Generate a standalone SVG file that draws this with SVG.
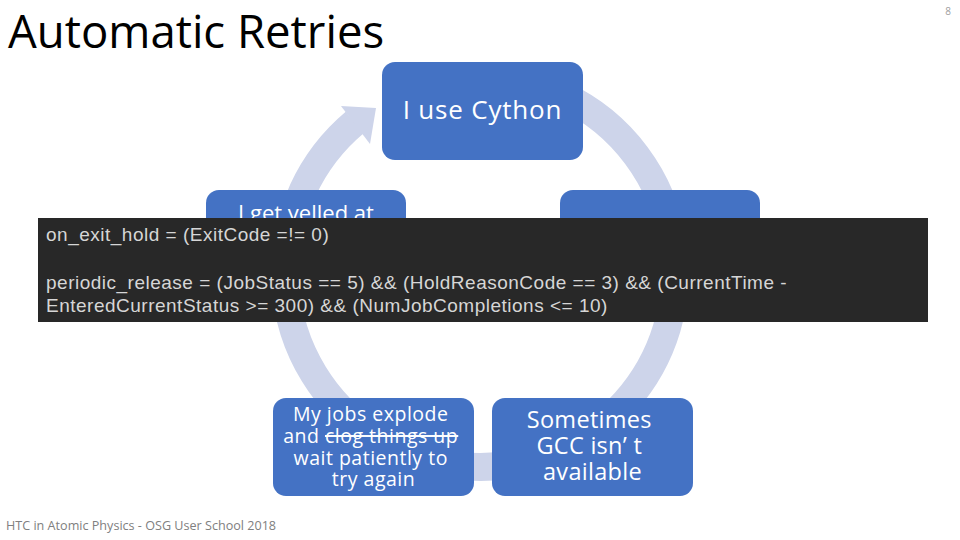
<svg xmlns="http://www.w3.org/2000/svg" width="960" height="540" viewBox="0 0 960 540">
<style>
.node{fill:#4472C4}
.nt{font-family:"Open Sans","Noto Sans","Noto Sans CJK SC",sans-serif;fill:#FFFFFF;text-anchor:middle}
.ring{fill:none;stroke:#CDD4EA;stroke-width:28}
.code{font-family:"Liberation Sans",Arial,sans-serif;font-size:19px;letter-spacing:0.5px;fill:#D6D6D6}
</style>
<rect width="960" height="540" fill="#FFFFFF"/>
<text x="8" y="48" font-family="Open Sans, sans-serif" font-size="45.5" fill="#000000">Automatic Retries</text>
<text x="951" y="15" font-family="Open Sans, sans-serif" font-size="10" fill="#A0A0A0" text-anchor="end">8</text>
<g id="connectors">
<path class="ring" d="M 480 77 A 195 195 0 1 1 354.7 122.6"/>
<polygon points="341,106 376,108 370,144" fill="#CDD4EA"/>
</g>
<g id="node-top">
<rect class="node" x="382" y="62" width="201" height="98" rx="13"/>
<text class="nt" x="482.5" y="119" font-size="26" letter-spacing="0.8">I use Cython</text>
</g>
<g id="node-left">
<rect class="node" x="206" y="190" width="200" height="98" rx="13"/>
<text class="nt" x="306" y="221" font-size="22">I get yelled at</text>
</g>
<g id="node-right">
<rect class="node" x="560" y="190" width="200" height="98" rx="13"/>
</g>
<g id="node-bottom-left">
<rect class="node" x="273" y="398" width="201" height="98" rx="13"/>
<text class="nt" font-size="19.5" letter-spacing="0.5">
<tspan x="373.5" y="421">My jobs explode</tspan>
<tspan x="373.5" y="443">and <tspan text-decoration="line-through">clog things up</tspan></tspan>
<tspan x="373.5" y="465">wait patiently to</tspan>
<tspan x="373.5" y="486">try again</tspan>
</text>
</g>
<g id="node-bottom-right">
<rect class="node" x="492" y="398" width="201" height="98" rx="13"/>
<text class="nt" font-size="23.5" letter-spacing="0.3">
<tspan x="592.5" y="428">Sometimes</tspan>
<tspan x="592.5" y="454">GCC isn’ t</tspan>
<tspan x="592.5" y="480">available</tspan>
</text>
</g>
<g id="code-box">
<rect x="38" y="218" width="890" height="104" fill="#282828"/>
<text class="code" x="46" y="241">on_exit_hold = (ExitCode =!= 0)</text>
<text class="code" x="46" y="289">periodic_release = (JobStatus == 5) &amp;&amp; (HoldReasonCode == 3) &amp;&amp; (CurrentTime -</text>
<text class="code" x="46" y="312">EnteredCurrentStatus &gt;= 300) &amp;&amp; (NumJobCompletions &lt;= 10)</text>
</g>
<text x="6" y="530" font-family="Open Sans, sans-serif" font-size="12.6" fill="#808080">HTC in Atomic Physics - OSG User School 2018</text>
</svg>
